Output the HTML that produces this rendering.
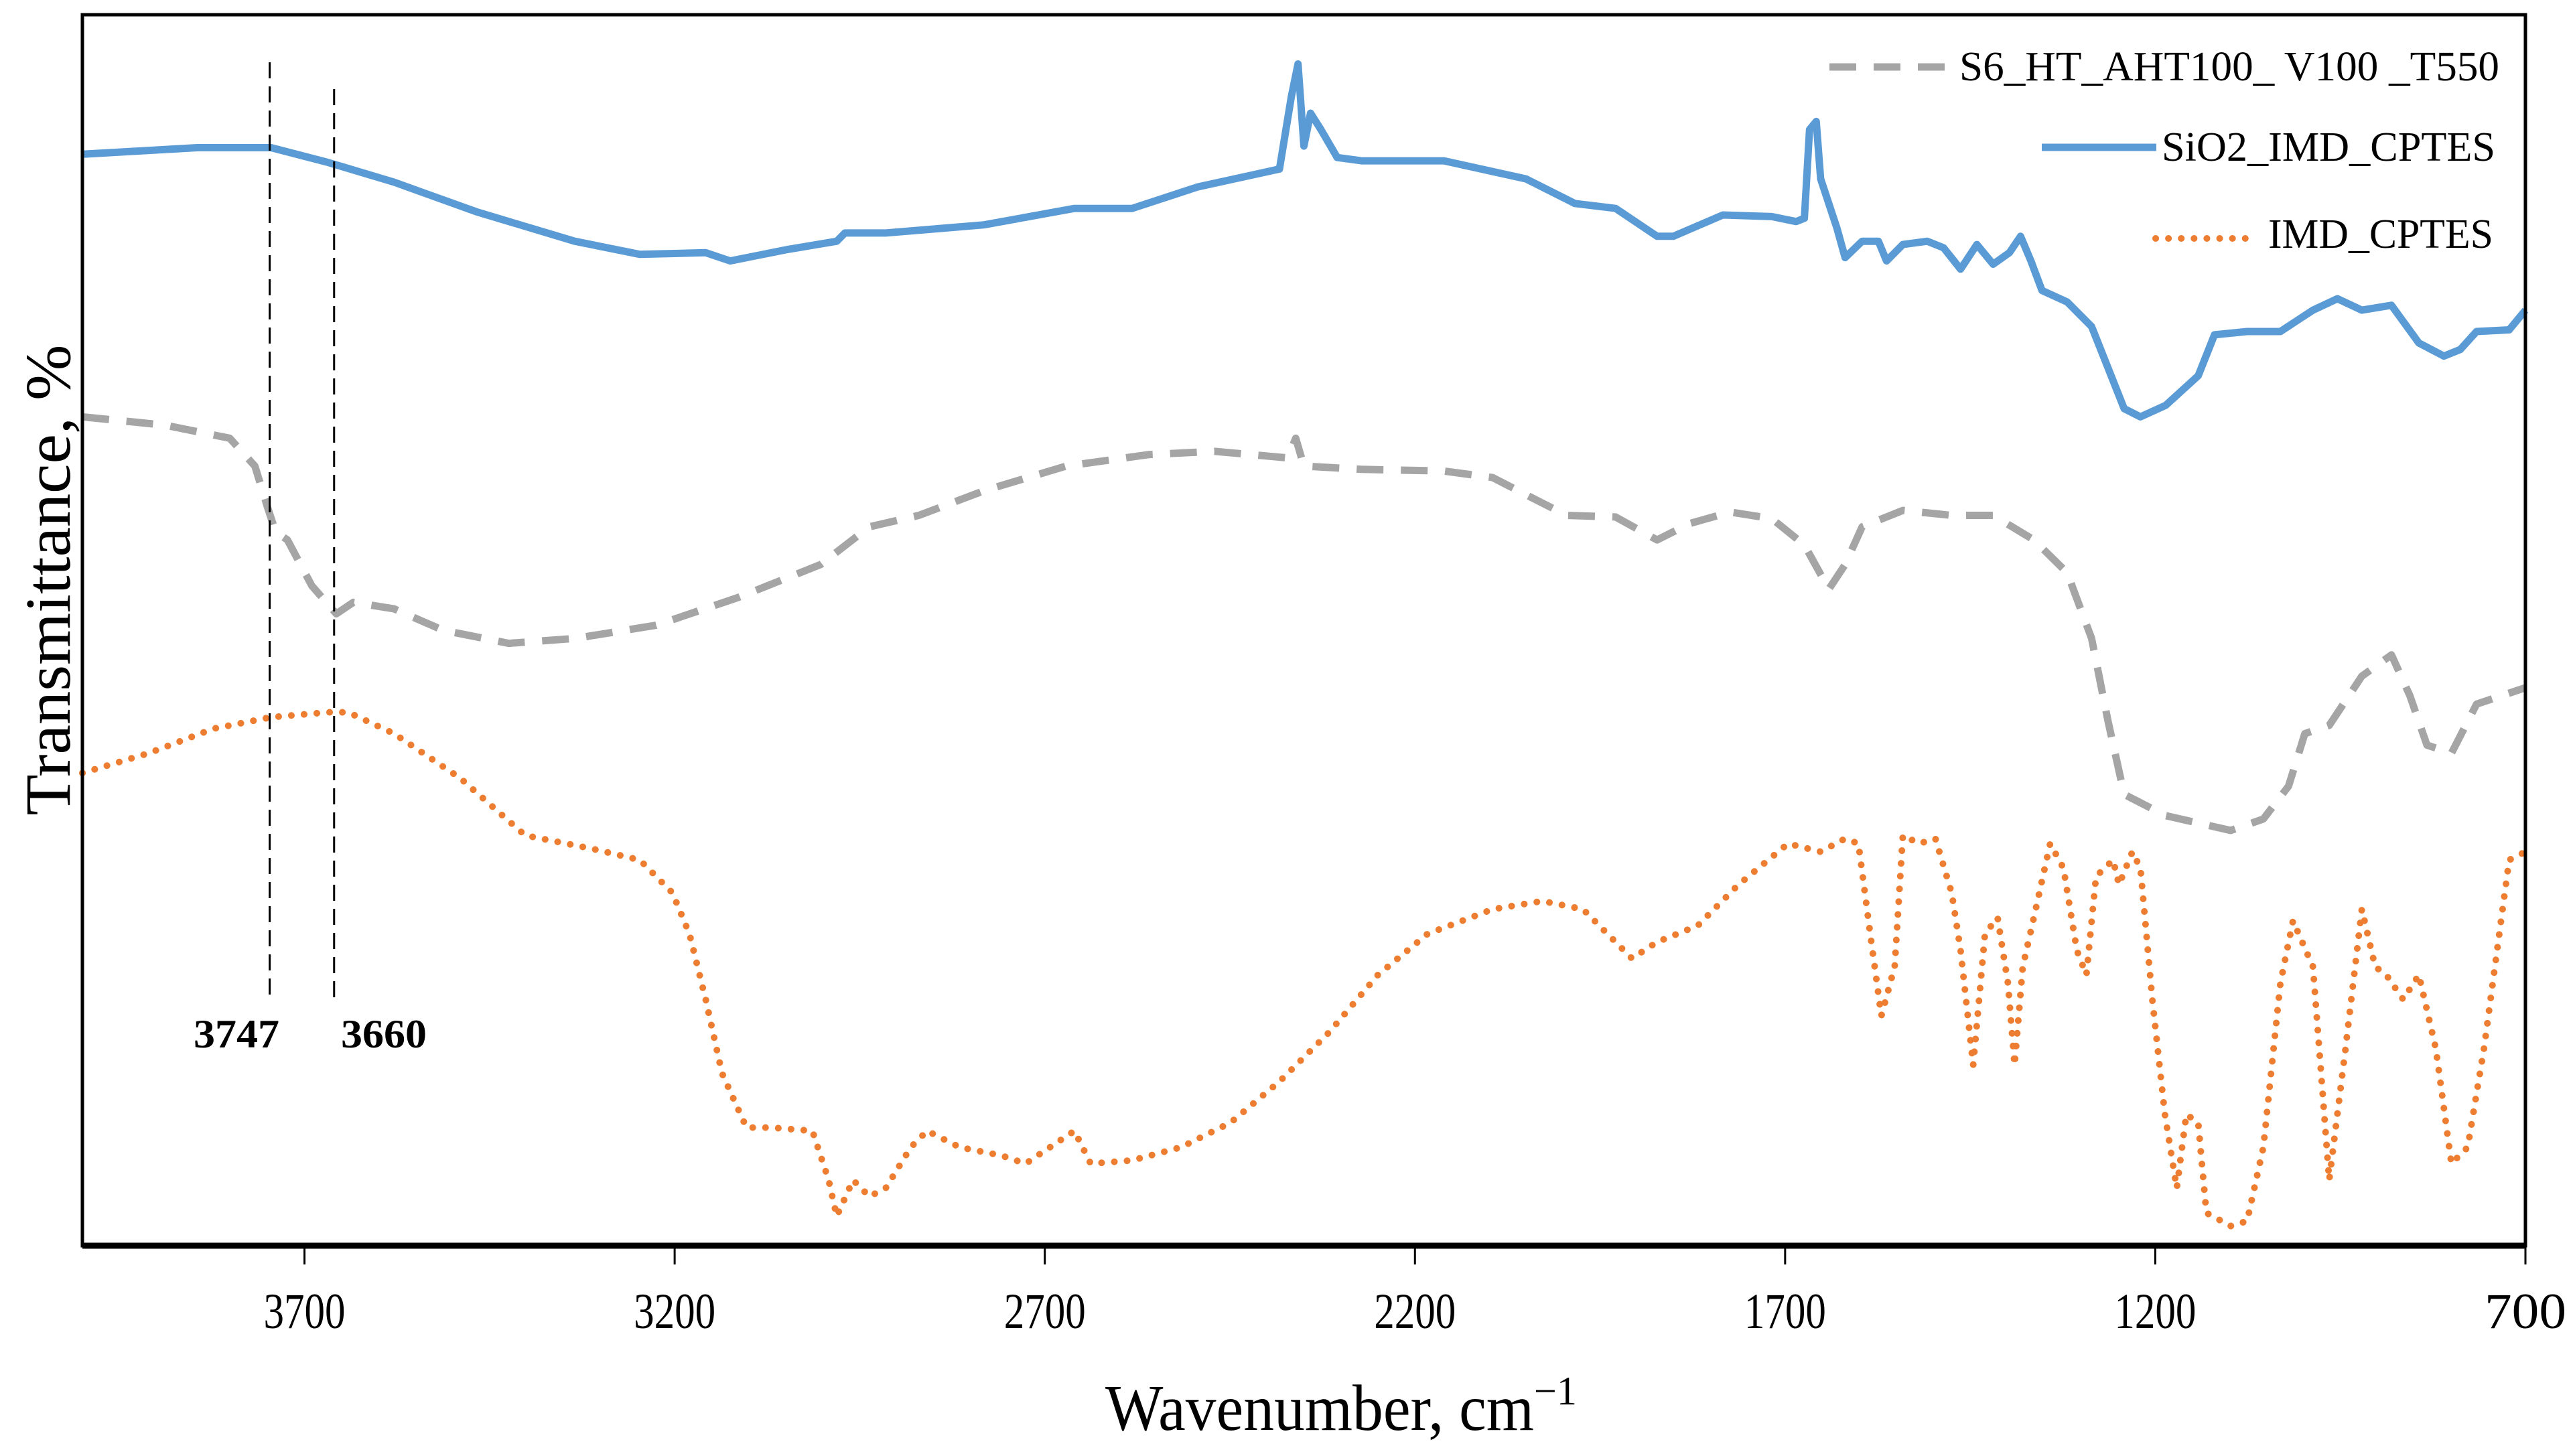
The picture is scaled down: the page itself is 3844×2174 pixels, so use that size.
<!DOCTYPE html>
<html><head><meta charset="utf-8"><style>
html,body{margin:0;padding:0;background:#fff;}
svg{display:block;font-family:"Liberation Serif",serif;}
</style></head><body>
<svg id="chart" width="3844" height="2174" viewBox="0 0 3844 2174" xmlns="http://www.w3.org/2000/svg">
<rect width="3844" height="2174" fill="#fff"/>
<g id="plot"></g>
</svg>
<script>
// axis domain
const xDomain = [4000, 700];
const yDomain = [0, 750];
const xTicks = [3700, 3200, 2700, 2200, 1700, 1200, 700];
const annotLines = [3747, 3660];

// SiO2_IMD_CPTES (solid blue)
const wnSiO2 = [4000,3845,3745,3668,3579,3468,3335,3247,3158,3125,3047,2981,2970,2915,2782,2660,2582,2494,2383,2367,2358,2350,2341,2327,2305,2272,2161,2050,1984,1929,1873,1851,1784,1718,1685,1674,1667,1658,1652,1630,1619,1596,1574,1563,1541,1508,1486,1463,1441,1419,1397,1382,1368,1353,1319,1286,1264,1242,1220,1186,1142,1120,1076,1031,987,954,921,881,844,810,788,766,722,700];
const tSiO2 = [665,669,669,660,648,630,612,604,605,600,607,612,617,617,622,632,632,645,656,700,720,670,690,680,663,661,661,650,635,632,615,615,628,627,624,626,680,685,650,620,602,612,612,600,610,612,608,595,610,598,605,615,600,582,575,560,535,510,505,512,530,555,557,557,570,577,570,573,550,542,546,557,558,570];

// S6_HT_AHT100_V100_T550 (dashed grey)
const wnS6 = [4000,3889,3801,3767,3750,3739,3723,3690,3657,3634,3579,3513,3424,3335,3225,3114,3003,2937,2870,2782,2671,2560,2471,2372,2361,2350,2272,2161,2095,2039,1995,1929,1873,1829,1774,1718,1674,1641,1619,1596,1541,1475,1419,1364,1319,1286,1264,1242,1186,1098,1054,1020,998,965,921,881,856,833,800,766,700];
const tS6 = [505,500,492,475,450,435,430,402,385,392,388,375,367,370,378,395,415,438,445,460,475,482,484,480,492,475,473,472,468,455,445,444,430,440,447,443,427,400,415,438,448,445,445,430,410,370,320,275,262,253,260,280,312,317,347,360,335,305,300,330,340];

// IMD_CPTES (dotted orange)
const wnIMD = [4000,3911,3823,3745,3668,3641,3579,3490,3402,3313,3247,3203,3180,3158,3136,3103,3070,3014,2992,2981,2959,2937,2915,2881,2859,2815,2759,2726,2693,2660,2638,2582,2516,2449,2383,2316,2250,2183,2095,2028,1973,1929,1907,1873,1818,1763,1696,1652,1619,1601,1585,1570,1552,1541,1519,1497,1475,1463,1446,1430,1413,1399,1390,1379,1364,1342,1324,1306,1293,1280,1257,1249,1231,1220,1204,1187,1171,1158,1142,1131,1098,1076,1054,1031,1014,987,976,965,943,921,903,888,865,844,821,800,778,756,722,700];
const tIMD = [288,300,315,322,325,325,312,285,250,242,235,215,190,150,105,72,72,70,40,18,40,30,35,60,70,60,55,50,60,70,50,52,60,75,100,130,165,190,205,210,205,185,175,185,195,220,245,240,248,245,190,140,170,250,245,248,215,180,110,190,200,160,110,170,200,245,230,180,165,225,235,220,240,230,150,80,35,80,75,20,12,15,60,160,198,170,105,40,120,205,170,165,150,165,120,50,60,120,235,240];

const L=123, R=3770, T=22, B=1860;
const xs = v => L + (xDomain[0]-v)/(xDomain[0]-xDomain[1])*(R-L);
const ys = v => B - (v-yDomain[0])/(yDomain[1]-yDomain[0])*(B-T);
const NS="http://www.w3.org/2000/svg";
const plot=document.getElementById('plot');
function mk(tag, attrs){const e=document.createElementNS(NS,tag);for(const k in attrs)e.setAttribute(k,attrs[k]);return e;}
function pathFor(wn,t){return wn.map((w,i)=>(i?'L':'M')+xs(w).toFixed(1)+' '+ys(t[i]).toFixed(1)).join(' ');}

// series
let p=mk('path',{d:pathFor(wnS6,tS6),fill:'none',stroke:'#a5a5a5','stroke-width':11,'stroke-dasharray':'40 26','stroke-linejoin':'round'});


plot.appendChild(p);
p=mk('path',{d:pathFor(wnSiO2,tSiO2),fill:'none',stroke:'#5b9bd5','stroke-width':11,'stroke-linejoin':'round'});


plot.appendChild(p);
p=mk('path',{d:pathFor(wnIMD,tIMD),fill:'none',stroke:'#ed7d31','stroke-width':10,'stroke-dasharray':'0.1 19','stroke-linecap':'round'});


plot.appendChild(p);

// annotation lines
const annotTops=[93,133];
annotLines.forEach((w,i)=>{
  const l=mk('line',{x1:xs(w),x2:xs(w),y1:annotTops[i],y2:1490,stroke:'#000','stroke-width':3,'stroke-dasharray':'24 12'});
  
  
  plot.appendChild(l);
  const tx=mk('text',{x:i===0?353:573,y:1564,'text-anchor':'middle','font-size':60,'font-weight':'bold',textLength:128,lengthAdjust:'spacingAndGlyphs'});
  tx.textContent=String(w);
  
  
  plot.appendChild(tx);
});

// frame
const fr=mk('rect',{x:L,y:T,width:R-L,height:B-T,fill:'none',stroke:'#000','stroke-width':5});


plot.appendChild(fr);
const ax=mk('line',{x1:L,x2:R,y1:B,y2:B,stroke:'#000','stroke-width':9});


plot.appendChild(ax);

// ticks
xTicks.forEach(v=>{
  const t=mk('line',{x1:xs(v),x2:xs(v),y1:B,y2:1888,stroke:'#000','stroke-width':3});
  
  
  plot.appendChild(t);
  const lb=mk('text',{x:xs(v),y:1983,'text-anchor':'middle','font-size':75,textLength:122,lengthAdjust:'spacingAndGlyphs'});
  lb.textContent=String(v);
  
  
  plot.appendChild(lb);
});

// axis titles
const xt=mk('text',{x:1650,y:2135,'font-size':98});
xt.innerHTML='<tspan textLength="640" lengthAdjust="spacingAndGlyphs">Wavenumber, cm</tspan><tspan dy="-38" font-size="60">−1</tspan>';


plot.appendChild(xt);
const yt=mk('text',{x:0,y:0,'font-size':96,'text-anchor':'middle',transform:'translate(104,866) rotate(-90)',textLength:703,lengthAdjust:'spacingAndGlyphs'});
yt.textContent='Transmittance, %';


plot.appendChild(yt);

// legend
const lg=mk('g',{});


plot.appendChild(lg);
let e;
e=mk('line',{x1:2731,x2:2913,y1:100,y2:100,stroke:'#a5a5a5','stroke-width':11,'stroke-dasharray':'40 26'});


lg.appendChild(e);
e=mk('text',{x:2925,y:120,'font-size':62,textLength:806,lengthAdjust:'spacingAndGlyphs'});
e.textContent='S6_HT_AHT100_ V100 _T550';


lg.appendChild(e);
e=mk('line',{x1:3048,x2:3219,y1:220,y2:220,stroke:'#5b9bd5','stroke-width':11});


lg.appendChild(e);
e=mk('text',{x:3227,y:240,'font-size':62,textLength:498,lengthAdjust:'spacingAndGlyphs'});
e.textContent='SiO2_IMD_CPTES';


lg.appendChild(e);
e=mk('line',{x1:3218,x2:3370,y1:356,y2:356,stroke:'#ed7d31','stroke-width':10,'stroke-dasharray':'0.1 19','stroke-linecap':'round'});


lg.appendChild(e);
e=mk('text',{x:3386,y:370,'font-size':62,textLength:336,lengthAdjust:'spacingAndGlyphs'});
e.textContent='IMD_CPTES';


lg.appendChild(e);
</script>
</body></html>
